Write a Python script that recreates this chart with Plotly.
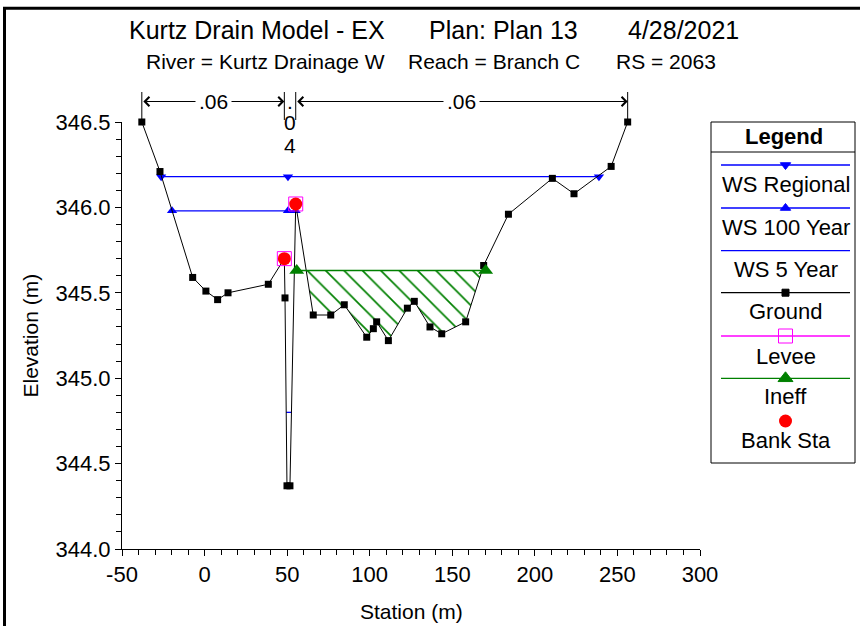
import numpy as np
import plotly.graph_objects as go

W, H = 860, 626
PL, PR, PT, PB = 122, 700, 122, 549   # plot-area pixel box
FONT = "Liberation Sans, Arial, sans-serif"

# ---------------- data ----------------
ground_sta = [-38.0, -27.0, -7.2, 0.8, 7.9, 14.2, 38.6, 48.3, 48.7, 49.9, 51.7, 55.2,
              65.8, 76.4, 84.6, 98.2, 102.2, 104.2, 111.3, 122.8, 127.0, 136.5, 143.6,
              158.1, 169.0, 184.0, 210.6, 223.7, 246.2, 256.2]
ground_elev = [346.50, 346.21, 345.59, 345.51, 345.46, 345.50, 345.55, 345.70, 345.47, 344.37,
               344.37, 346.02, 345.37, 345.37, 345.43, 345.24, 345.29, 345.33, 345.22, 345.41,
               345.45, 345.30, 345.26, 345.33, 345.66, 345.96, 346.17, 346.08, 346.24, 346.50]
ws_regional_sta = [-26.3, 50.5, 238.8]
ws_regional_elev = 346.18
ws_100_sta = [-19.7, 50.5, 55.1]
ws_100_elev = 345.98
ws_5_sta = [49.4, 52.6]
ws_5_elev = 344.80
bank_sta = [48.3, 55.2]
bank_elev = [345.70, 346.02]
levee_sta = [48.3, 55.2]
levee_elev = [345.70, 346.02]
ineff_sta = [55.8, 170.2]
ineff_elev = 345.63
n_break_sta = [-38.0, 48.3, 55.2, 256.2]
n_values = [".06", ".04", ".06"]
x_ticks = [-50, 0, 50, 100, 150, 200, 250, 300]
y_ticks = [344.0, 344.5, 345.0, 345.5, 346.0, 346.5]
legend_names = ["WS Regional", "WS 100 Year", "WS 5 Year", "Ground", "Levee", "Ineff", "Bank Sta"]

title_parts = ["Kurtz Drain Model - EX", "Plan: Plan 13", "4/28/2021"]
subtitle_parts = ["River = Kurtz Drainage W", "Reach = Branch C", "RS = 2063"]

BLUE = "#0000ff"
GREEN = "#008000"
MAGENTA = "#ff00ff"
RED = "#ff0000"


def py(p):  # pixel y -> paper
    return 1 - p / H


def px(p):  # pixel x -> paper
    return p / W


# hatch polygon: area under the ineffective elevation and above ground
s = np.array(ground_sta)
e = np.array(ground_elev)
pts = [ineff_sta[0], ineff_sta[1]] + [v for v in ground_sta if ineff_sta[0] < v < ineff_sta[1]]
for i in range(len(s) - 1):
    if (e[i] - ineff_elev) * (e[i + 1] - ineff_elev) < 0:
        xc = s[i] + (ineff_elev - e[i]) * (s[i + 1] - s[i]) / (e[i + 1] - e[i])
        if ineff_sta[0] <= xc <= ineff_sta[1]:
            pts.append(xc)
pts = np.array(sorted(pts))
bottom = np.minimum(np.interp(pts, s, e), ineff_elev)
hx = list(pts) + list(pts[::-1])
hy = [ineff_elev] * len(pts) + list(bottom[::-1])

fig = go.Figure()

fig.add_trace(go.Scatter(
    x=hx, y=hy, mode="lines", fill="toself", line=dict(width=0, color=GREEN),
    fillcolor="rgba(255,255,255,0)",
    fillpattern=dict(shape="\\", fgcolor=GREEN, fgopacity=1, bgcolor="rgba(255,255,255,0)",
                     size=13, solidity=0.13),
    hoverinfo="skip", showlegend=False))

# water surfaces
fig.add_trace(go.Scatter(x=ws_regional_sta, y=[ws_regional_elev] * len(ws_regional_sta),
                         mode="lines+markers", line=dict(color=BLUE, width=1.3),
                         marker=dict(symbol="triangle-down", size=9, color=BLUE),
                         cliponaxis=False, showlegend=False))
fig.add_trace(go.Scatter(x=ws_100_sta, y=[ws_100_elev] * len(ws_100_sta),
                         mode="lines+markers", line=dict(color=BLUE, width=1.3),
                         marker=dict(symbol="triangle-up", size=9, color=BLUE),
                         cliponaxis=False, showlegend=False))
fig.add_trace(go.Scatter(x=ws_5_sta, y=[ws_5_elev] * len(ws_5_sta),
                         mode="lines", line=dict(color=BLUE, width=1.3), showlegend=False))

# ground
fig.add_trace(go.Scatter(x=ground_sta, y=ground_elev, mode="lines+markers",
                         line=dict(color="black", width=1),
                         marker=dict(symbol="square", size=7, color="black"),
                         cliponaxis=False, showlegend=False))

# ineffective area
fig.add_trace(go.Scatter(x=ineff_sta, y=[ineff_elev] * 2, mode="lines+markers",
                         line=dict(color=GREEN, width=1.5),
                         marker=dict(symbol="triangle-up", size=13, color=GREEN),
                         showlegend=False))

# levee and bank stations
fig.add_trace(go.Scatter(x=levee_sta, y=levee_elev, mode="markers",
                         marker=dict(symbol="square-open", size=14, color=MAGENTA, line=dict(width=1)),
                         showlegend=False))
fig.add_trace(go.Scatter(x=bank_sta, y=bank_elev, mode="markers",
                         marker=dict(symbol="circle", size=13, color=RED),
                         showlegend=False))

# ---------------- legend (drawn on a pixel overlay axis) ----------------
line_y = [165, 208, 250.7, 292.7, 336, 378.3]
text_y = [184, 227, 269.3, 311.7, 356, 396, 440]
LX0, LX1, LXC = 721, 850, 785.5
leg_styles = [
    (BLUE, "triangle-down", 9),
    (BLUE, "triangle-up", 9),
    (BLUE, None, 0),
    ("black", "square", 7),
    (MAGENTA, "square-open", 14),
    (GREEN, "triangle-up", 13),
]
for (col, sym, sz), ly in zip(leg_styles, line_y):
    fig.add_trace(go.Scatter(x=[LX0, LX1], y=[ly, ly], mode="lines", xaxis="x2", yaxis="y2",
                             line=dict(color=col, width=1.3), showlegend=False, hoverinfo="skip"))
    if sym:
        fig.add_trace(go.Scatter(x=[LXC], y=[ly], mode="markers", xaxis="x2", yaxis="y2",
                                 marker=dict(symbol=sym, size=sz, color=col,
                                             line=dict(width=1, color=col)),
                                 showlegend=False, hoverinfo="skip"))
fig.add_trace(go.Scatter(x=[LXC], y=[421], mode="markers", xaxis="x2", yaxis="y2",
                         marker=dict(symbol="circle", size=13, color=RED),
                         showlegend=False, hoverinfo="skip"))

annotations = []
for name, ty in zip(legend_names, text_y):
    annotations.append(dict(x=LXC, y=ty, xref="x2", yref="y2", text=name, showarrow=False,
                            font=dict(size=22, color="black", family=FONT),
                            xanchor="center", yanchor="middle"))
annotations.append(dict(x=LXC - 2, y=136, xref="x2", yref="y2", text="<b>Legend</b>",
                        showarrow=False, font=dict(size=22, color="black", family=FONT),
                        xanchor="center", yanchor="middle"))

shapes = [
    dict(type="rect", xref="x2", yref="y2", x0=711, x1=855, y0=122, y1=463,
         line=dict(color="black", width=1)),
    dict(type="line", xref="x2", yref="y2", x0=711, x1=855, y0=152, y1=152,
         line=dict(color="black", width=1)),
    # window frame
    dict(type="rect", xref="x2", yref="y2", x0=4.5, x1=880, y0=8.3, y1=660,
         line=dict(color="black", width=3)),
]

# ---------------- Manning's n annotations ----------------
for st in n_break_sta:
    shapes.append(dict(type="line", xref="x", yref="paper", x0=st, x1=st,
                       y0=py(92), y1=py(120), line=dict(color="black", width=1)))
arrow_y = py(101.5)
for (a, b), nv in zip(zip(n_break_sta[:-1], n_break_sta[1:]), n_values):
    if b - a > 20:
        annotations.append(dict(x=b, y=arrow_y, xref="x", yref="paper", ax=a, ay=0,
                                axref="x", ayref="pixel", text="", showarrow=True,
                                arrowhead=4, startarrowhead=4, arrowside="end+start",
                                arrowsize=1.8, arrowwidth=1, arrowcolor="black",
                                standoff=0, startstandoff=0))
        annotations.append(dict(x=(a + b) / 2, y=arrow_y, xref="x", yref="paper", text=nv,
                                showarrow=False, bgcolor="white", borderpad=3,
                                font=dict(size=21, color="black", family=FONT),
                                xanchor="center", yanchor="middle"))
    else:
        for k, ch in enumerate(nv):
            annotations.append(dict(x=(a + b) / 2, y=py(101 + 22 * k), xref="x", yref="paper",
                                    text=ch, showarrow=False,
                                    font=dict(size=21, color="black", family=FONT),
                                    xanchor="center", yanchor="middle"))

# ---------------- titles ----------------
for txt, xp, anc in zip(title_parts, [127, 503, 741], ["left", "center", "right"]):
    annotations.append(dict(x=px(xp), y=py(30), xref="paper", yref="paper", text=txt,
                            showarrow=False, font=dict(size=25, color="black", family=FONT),
                            xanchor=anc, yanchor="middle"))
for txt, xp, anc in zip(subtitle_parts, [144, 406, 718], ["left", "left", "right"]):
    annotations.append(dict(x=px(xp), y=py(62), xref="paper", yref="paper", text=txt,
                            showarrow=False, font=dict(size=21, color="black", family=FONT),
                            xanchor=anc, yanchor="middle"))
annotations.append(dict(x=px(411), y=py(611), xref="paper", yref="paper", text="Station (m)",
                        showarrow=False, font=dict(size=21, color="black", family=FONT),
                        xanchor="center", yanchor="middle"))
annotations.append(dict(x=px(30), y=py(335.5), xref="paper", yref="paper", text="Elevation (m)",
                        textangle=-90, showarrow=False,
                        font=dict(size=21, color="black", family=FONT),
                        xanchor="center", yanchor="middle"))

fig.update_layout(
    width=W, height=H,
    margin=dict(l=0, r=0, t=0, b=0, pad=0, autoexpand=False),
    paper_bgcolor="white", plot_bgcolor="rgba(0,0,0,0)",
    font=dict(family=FONT, size=21, color="black"),
    showlegend=False,
    xaxis=dict(domain=[PL / W, PR / W], range=[-50, 300], tickvals=x_ticks,
               ticktext=[str(v) for v in x_ticks],
               showgrid=False, zeroline=False, showline=True, linecolor="black", linewidth=1,
               ticks="outside", ticklen=6, tickcolor="black",
               minor=dict(dtick=10, ticks="outside", ticklen=5, tickcolor="black", showgrid=False),
               tickfont=dict(size=22, family=FONT), anchor="y", automargin=False),
    yaxis=dict(domain=[1 - PB / H, 1 - PT / H], range=[344, 346.5], tickvals=y_ticks,
               tickformat=".1f",
               showgrid=False, zeroline=False, showline=True, linecolor="black", linewidth=1,
               ticks="outside", ticklen=6, tickcolor="black",
               minor=dict(dtick=0.1, ticks="outside", ticklen=5, tickcolor="black", showgrid=False),
               tickfont=dict(size=22, family=FONT), anchor="x", automargin=False),
    xaxis2=dict(domain=[0, 1], range=[0, W], visible=False, anchor="y2", fixedrange=True,
                automargin=False),
    yaxis2=dict(domain=[0, 1], range=[H, 0], visible=False, anchor="x2", fixedrange=True,
                automargin=False),
    shapes=shapes,
    annotations=annotations,
)

fig.write_html("out.html", config={"displayModeBar": False},
               post_script="document.body.style.margin='0';")
